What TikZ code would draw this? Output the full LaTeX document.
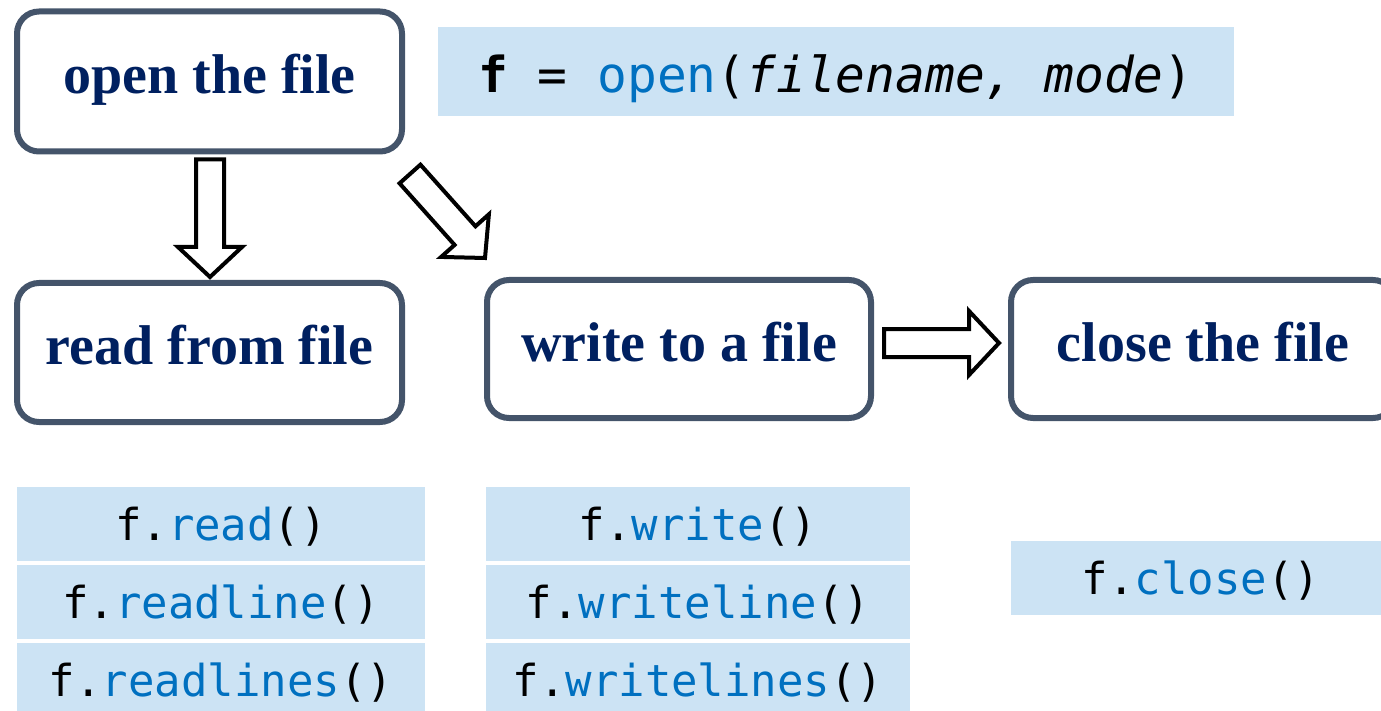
\documentclass[tikz,border=0pt]{standalone}
\usepackage{fontspec}
\setmainfont{Liberation Serif}
\newfontfamily\codefont{DejaVu Sans Mono}
\usetikzlibrary{calc}
\definecolor{boxline}{HTML}{44546A}
\definecolor{navy}{HTML}{002060}
\definecolor{codebg}{HTML}{CCE3F4}
\definecolor{codeblue}{HTML}{0070C0}
\tikzset{
 stepbox/.style={draw=boxline, line width=6pt, rounded corners=22pt, fill=white,
   minimum width=385pt, minimum height=140pt, text=navy,
   font=\fontsize{56}{60}\selectfont\bfseries, text height=38pt, text depth=14pt, inner sep=0pt},
 codebox/.style={fill=codebg, inner sep=0pt, minimum height=74pt,
   font=\codefont\fontsize{44}{46}\selectfont, text height=40pt, text depth=8pt},
 barrow/.style={draw=black, fill=white, line width=4pt, line join=miter},
}
\newcommand\kw[1]{\textcolor{codeblue}{#1}}
\newcommand\blockarr[2]{%
 \path ($(#2)!30pt!(#1)$) coordinate (bh);
 \draw[barrow] ($(#1)!14pt!90:(#2)$) -- ($(bh)!14pt!-90:(#1)$) -- ($(bh)!32pt!-90:(#1)$) -- (#2)
   -- ($(bh)!32pt!90:(#1)$) -- ($(bh)!14pt!90:(#1)$) -- ($(#1)!14pt!-90:(#2)$) -- cycle;}
\begin{document}
\begin{tikzpicture}[x=1pt,y=-1pt]
\useasboundingbox (0,0) rectangle (1381,711);
\clip (0,0) rectangle (1381,711);
% step boxes
\node[stepbox] (open) at (209.5,81.5) {open the file};
\node[stepbox, minimum height=139pt] (read) at (209.5,352.5) {read from file};
\node[stepbox, minimum width=384pt, minimum height=138pt] (write) at (679,349) {write to a file};
\node[stepbox, minimum width=384pt, minimum height=138pt] (close) at (1203,349) {close the file};
% code boxes
\node[codebox, minimum width=796pt, minimum height=89pt, font=\codefont\fontsize{49.5}{52}\selectfont, text height=46pt, text depth=4pt]
  (opencode) at (836,71.5) {{\bfseries f} = \kw{open}(\textit{filename, mode})};
\node[codebox, minimum width=408pt] (r1) at (221,524) {f.\kw{read}()};
\node[codebox, minimum width=408pt] (r2) at (221,602) {f.\kw{readline}()};
\node[codebox, minimum width=408pt] (r3) at (221,680) {f.\kw{readlines}()};
\node[codebox, minimum width=424pt] (w1) at (698,524) {f.\kw{write}()};
\node[codebox, minimum width=424pt] (w2) at (698,602) {f.\kw{writeline}()};
\node[codebox, minimum width=424pt] (w3) at (698,680) {f.\kw{writelines}()};
\node[codebox, minimum width=380pt] (c1) at (1201,578) {f.\kw{close}()};
% arrows
\coordinate (a1s) at ($(open.south)+(0.5,5)$);
\coordinate (a1e) at ($(read.north)+(0.5,-3)$);
\coordinate (a2s) at (410,174);
\coordinate (a2e) at (485,258);
\coordinate (a3s) at ($(write.east)+(10,-6)$);
\coordinate (a3e) at ($(close.west)+(-9,-6)$);
\blockarr{a1s}{a1e}
\blockarr{a2s}{a2e}
\blockarr{a3s}{a3e}
\end{tikzpicture}
\end{document}
